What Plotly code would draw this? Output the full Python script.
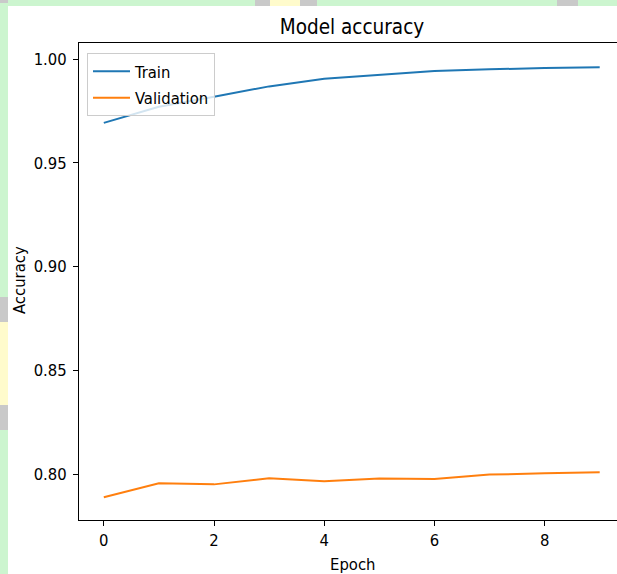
import plotly.graph_objects as go

epochs = list(range(10))
train_acc = [0.9692, 0.9770, 0.9818, 0.9868, 0.9905, 0.9924, 0.9942, 0.9950, 0.9957, 0.9960]
val_acc = [0.7888, 0.7955, 0.7950, 0.7979, 0.7965, 0.7978, 0.7976, 0.7997, 0.8003, 0.8008]
x_ticks = [0, 2, 4, 6, 8]
y_ticks = [0.80, 0.85, 0.90, 0.95, 1.00]

W, H = 617, 574
L, T, B = 79, 43, 520
PW, PH = W - L, B - T

def px(p):
    return (p - L) / PW

def py(q):
    return (B - q) / PH

FONT = "DejaVu Sans Condensed, DejaVu Sans"
FS = 16.5

fig = go.Figure()
fig.add_trace(go.Scatter(x=epochs, y=train_acc, mode="lines", name="Train",
                         line=dict(color="#1f77b4", width=2), legendgroup="a"))
fig.add_trace(go.Scatter(x=epochs, y=val_acc, mode="lines", name="Validation",
                         line=dict(color="#ff7f0e", width=2), legendgroup="b"))

green = "#ccf5cf"
yellow = "#fffbcc"
gray = "#c9c9c9"
shapes = []
def rect(x0, y0, x1, y1, color):
    shapes.append(dict(type="rect", xref="paper", yref="paper",
                       x0=px(x0), x1=px(x1), y0=py(y0), y1=py(y1),
                       fillcolor=color, line=dict(width=0), layer="below"))
rect(0, 0, 8, H, green)
rect(0, 0, W, 6, green)
rect(255, 0, 270, 6, gray)
rect(270, 0, 300, 6, yellow)
rect(300, 0, 317, 6, gray)
rect(557, 0, 578, 6, gray)
rect(0, 0, 8, 3, gray)
rect(0, 297, 8, 322, gray)
rect(0, 322, 8, 405, yellow)
rect(0, 405, 8, 430, gray)

fig.update_layout(
    width=W, height=H,
    margin=dict(l=L, r=0, t=T, b=H - B, autoexpand=False),
    paper_bgcolor="white", plot_bgcolor="white",
    font=dict(family=FONT, size=FS, color="black"),
    title=dict(text="Model accuracy", x=352 / W, xanchor="center", xref="container",
               y=1 - 27 / H, yanchor="middle", yref="container",
               font=dict(family=FONT, size=20.5, color="black")),
    showlegend=True,
    legend=dict(x=px(87), y=py(53), xanchor="left", yanchor="top",
                bgcolor="rgba(255,255,255,0.8)", bordercolor="#cccccc", borderwidth=1,
                itemwidth=37,
                font=dict(family=FONT, size=FS, color="black"), tracegroupgap=2),
    shapes=shapes,
    annotations=[
        dict(text="Epoch", x=px(352), y=py(564), xref="paper", yref="paper",
             showarrow=False, xanchor="center", yanchor="middle",
             font=dict(family=FONT, size=FS, color="black")),
        dict(text="Accuracy", x=px(19), y=py(280), xref="paper", yref="paper",
             showarrow=False, xanchor="center", yanchor="middle", textangle=-90,
             font=dict(family=FONT, size=FS, color="black")),
    ],
)
fig.update_xaxes(range=[-0.45, -0.45 + PW / 55.1], tickvals=x_ticks,
                 ticktext=[str(v) for v in x_ticks],
                 showgrid=False, zeroline=False, showline=True, linecolor="black",
                 linewidth=1, mirror=True, ticks="outside", ticklen=5, tickcolor="black",
                 tickfont=dict(family=FONT, size=FS, color="black"))
fig.update_yaxes(range=[0.77783, 0.77783 + PH / 2075], tickvals=y_ticks,
                 ticktext=[f"{v:.2f}" for v in y_ticks],
                 showgrid=False, zeroline=False, showline=True, linecolor="black",
                 linewidth=1, mirror=False, ticks="outside", ticklen=5, tickcolor="black",
                 ticklabelstandoff=3,
                 tickfont=dict(family=FONT, size=FS, color="black"))

fig.write_html("out.html")
